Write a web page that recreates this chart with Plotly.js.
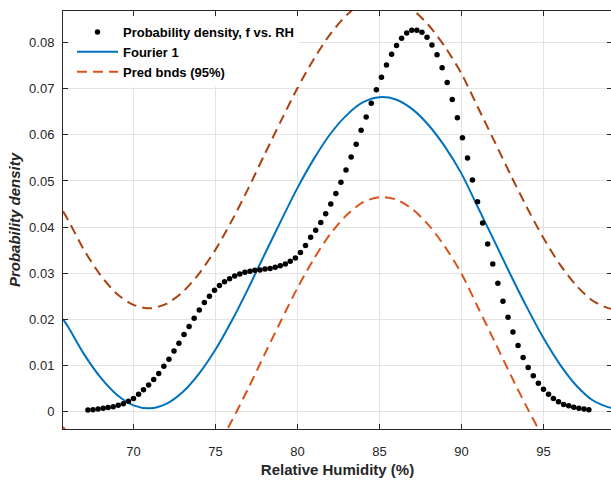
<!DOCTYPE html>
<html><head><meta charset="utf-8">
<script src="https://cdn.plot.ly/plotly-3.0.1.min.js"></script>
<style>html,body{margin:0;padding:0;overflow:hidden;background:#fff}</style>
</head><body><div id="chart" style="width:612px;height:480px"></div>
<script>
// Relative humidity (%) of the observed points
const rhX = [67.22,67.53,67.84,68.15,68.45,68.76,69.07,69.38,69.69,70.00,
  70.31,70.61,70.92,71.23,71.54,71.85,72.16,72.47,72.77,73.08,
  73.39,73.70,74.01,74.32,74.63,74.94,75.24,75.55,75.86,76.17,
  76.48,76.79,77.10,77.40,77.71,78.02,78.33,78.64,78.95,79.26,
  79.56,79.87,80.18,80.49,80.80,81.11,81.42,81.72,82.03,82.34,
  82.65,82.96,83.27,83.58,83.88,84.19,84.50,84.81,85.12,85.43,
  85.74,86.04,86.35,86.66,86.97,87.28,87.59,87.90,88.20,88.51,
  88.82,89.13,89.44,89.75,90.06,90.37,90.67,90.98,91.29,91.60,
  91.91,92.22,92.53,92.84,93.14,93.45,93.76,94.07,94.38,94.69,
  95.00,95.31,95.61,95.92,96.23,96.54,96.85,97.16,97.47,97.77];
// Probability density f of each observed point
const densityY = [0.0003,0.00035,0.0005,0.00065,0.00085,0.0010,0.0013,0.00165,0.0022,0.0028,
  0.0037,0.0047,0.0057,0.0069,0.0082,0.0098,0.0113,0.0131,0.0148,0.0167,
  0.0184,0.0202,0.0220,0.0236,0.0250,0.0263,0.0273,0.0281,0.0288,0.0294,
  0.0298,0.0302,0.0304,0.0306,0.0307,0.0309,0.0310,0.0313,0.0316,0.0320,
  0.0326,0.0333,0.0345,0.0360,0.0378,0.0393,0.0410,0.0429,0.0450,0.0473,
  0.0497,0.0524,0.0552,0.0580,0.0610,0.0639,0.0669,0.0698,0.0725,0.0752,
  0.0775,0.0794,0.0810,0.0821,0.0827,0.0827,0.0823,0.0812,0.0795,0.0774,
  0.0746,0.0714,0.0677,0.0637,0.0594,0.0550,0.0502,0.0455,0.0409,0.0363,
  0.0320,0.0278,0.0239,0.0204,0.0172,0.0143,0.0117,0.0095,0.0077,0.0061,
  0.0048,0.0037,0.0028,0.0021,0.0015,0.0012,0.0009,0.00065,0.0005,0.00035];
// Fourier 1 fit curve, read along the axis
const fitX = [65.7,66,67,68,69,70,71,72,73,74,75,76,77,78,79,80,81,82,83,84,85,86,87,88,89,90,91,92,93,94,95,96,97,98,99,99.18];
const fitY = [0.0200,0.0184,0.0123,0.0073,0.00355,0.0013,0.00066,0.00163,0.0042,0.0082,0.0134,0.0197,0.0267,0.0341,0.0414,0.0485,0.0548,0.0602,0.0643,0.0671,0.0682,0.0677,0.0656,0.0621,0.0574,0.0516,0.0443,0.0370,0.0296,0.0225,0.0159,0.0102,0.0056,0.0024,0.00085,0.00078];
// 95% prediction bounds
const upperY = [0.0434,0.0416,0.0349,0.0295,0.02545,0.0231,0.02236,0.02333,0.0259,0.0299,0.0351,0.0414,0.0484,0.0558,0.0631,0.0702,0.0765,0.0819,0.0860,0.0888,0.0899,0.0894,0.0873,0.0838,0.0791,0.0733,0.0660,0.0587,0.0513,0.0442,0.0376,0.0319,0.0273,0.0240,0.02235,0.02228];
const lowerY = [-0.0034,-0.0048,-0.0103,-0.0149,-0.01835,-0.0205,-0.02104,-0.02007,-0.0175,-0.0135,-0.0083,-0.0020,0.0050,0.0124,0.0197,0.0268,0.0331,0.0385,0.0426,0.0454,0.0465,0.0460,0.0439,0.0404,0.0357,0.0299,0.0226,0.0153,0.0079,0.0008,-0.0058,-0.0115,-0.0161,-0.0192,-0.02065,-0.02072];
const xTicks = [70,75,80,85,90,95];
const yTicks = [0,0.01,0.02,0.03,0.04,0.05,0.06,0.07,0.08];
const yTickLabels = ['0','0.01','0.02','0.03','0.04','0.05','0.06','0.07','0.08'];
const seriesNames = ['Probability density, f vs. RH','Fourier 1','Pred bnds (95%)'];

const txt = '#262626';
const font = 'Liberation Sans, Arial, Helvetica, sans-serif';

const traces = [
  {x: fitX, y: upperY, mode: 'lines', showlegend: false, hoverinfo: 'skip',
   line: {color: '#A8420F', width: 2, dash: '10px,6px', shape: 'spline', smoothing: 0.8}},
  {x: fitX, y: lowerY, mode: 'lines', name: seriesNames[2], legendrank: 3,
   line: {color: '#D95319', width: 2, dash: '10px,6px', shape: 'spline', smoothing: 0.8}},
  {x: fitX, y: fitY, mode: 'lines', name: seriesNames[1], legendrank: 2,
   line: {color: '#0072BD', width: 2, shape: 'spline', smoothing: 0.8}},
  {x: rhX, y: densityY, mode: 'markers', name: seriesNames[0], legendrank: 1,
   marker: {color: '#000000', size: 5.5}}
];

const layout = {
  width: 612, height: 480,
  margin: {l: 63, r: 0, t: 11, b: 51, pad: 0},
  paper_bgcolor: '#ffffff', plot_bgcolor: '#ffffff',
  font: {family: font, size: 13, color: txt},
  showlegend: true,
  legend: {x: (72-63)/549, y: 1 - (17-11)/418, xanchor: 'left', yanchor: 'top',
    bgcolor: '#ffffff', borderwidth: 0, itemwidth: 41,
    font: {family: font, size: 13, color: '#000000', weight: 'bold'}},
  xaxis: {range: [65.7, 99.18], tickvals: xTicks, ticks: 'inside', ticklen: 5,
    tickcolor: txt, showline: true, linecolor: txt, linewidth: 1, mirror: 'ticks',
    showgrid: true, gridcolor: '#e3e3e3', gridwidth: 1, zeroline: false,
    ticklabelstandoff: 10,
    tickfont: {family: font, size: 13, color: txt},
    title: {text: 'Relative Humidity (%)', standoff: 6,
      font: {family: font, size: 15, color: txt, weight: 'bold'}}},
  yaxis: {range: [-0.00384, 0.0869], tickvals: yTicks, ticktext: yTickLabels,
    ticks: 'inside', ticklen: 5, tickcolor: txt, showline: true, linecolor: txt,
    linewidth: 1, mirror: 'ticks', showgrid: true, gridcolor: '#e3e3e3', gridwidth: 1,
    zeroline: false, ticklabelstandoff: 5,
    tickfont: {family: font, size: 13, color: txt},
    title: {text: 'Probability density', standoff: 4,
      font: {family: font, size: 15, color: txt, weight: 'bold', style: 'italic'}}}
};

Plotly.newPlot('chart', traces, layout, {displayModeBar: false, staticPlot: true});
</script>
</body></html>
